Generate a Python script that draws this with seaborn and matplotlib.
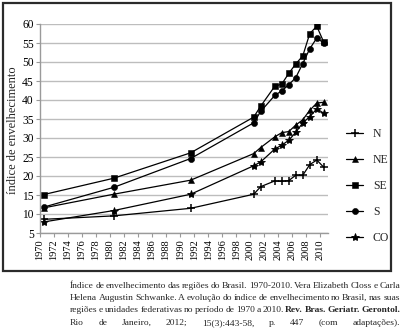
import numpy as np
import pandas as pd
import matplotlib
matplotlib.use("Agg")
import matplotlib.pyplot as plt
from matplotlib.patches import Rectangle
from matplotlib.lines import Line2D
import seaborn as sns

# Anos com dados (censos e PNAD)
anos = [1970, 1980, 1991, 2000, 2001, 2003, 2004, 2005, 2006, 2007, 2008, 2009, 2010]

# Índice de envelhecimento por região
norte = [8.6, 9.5, 11.5, 15.2, 17.2, 18.7, 18.6, 18.8, 20.2, 20.2, 23.0, 24.2, 22.3]
nordeste = [11.6, 15.2, 18.9, 25.9, 27.5, 30.3, 31.4, 31.7, 33.4, 34.8, 37.3, 39.2, 39.4]
sudeste = [15.1, 19.4, 26.1, 35.5, 38.4, 43.6, 44.2, 47.0, 49.5, 51.6, 57.5, 59.4, 55.2]
sul = [11.8, 17.0, 24.6, 34.0, 37.0, 41.2, 42.4, 44.0, 45.9, 49.6, 53.5, 56.3, 55.0]
centro_oeste = [7.9, 10.9, 15.2, 22.7, 23.7, 27.1, 28.1, 29.4, 31.5, 34.0, 35.6, 37.7, 36.5]

regioes = ["N", "NE", "SE", "S", "CO"]
valores = [norte, nordeste, sudeste, sul, centro_oeste]
# seaborn só aceita marcadores preenchidos num mesmo mapeamento;
# o "+" da região Norte é trocado depois de desenhar
marcadores_sns = {"N": "P", "NE": "^", "SE": "s", "S": "o", "CO": "*"}
marcadores = {"N": "+", "NE": "^", "SE": "s", "S": "o", "CO": "*"}
tamanhos = {"N": 6, "NE": 4.2, "SE": 4.2, "S": 4.4, "CO": 6}
bordas = {"N": 1.1, "NE": 0.4, "SE": 0.4, "S": 0.4, "CO": 0.6}

anos_rotulos = list(range(1970, 2011, 2))
y_ticks = list(range(5, 61, 5))

df = pd.DataFrame({
    "ano": np.tile(anos, len(regioes)),
    "indice": np.concatenate(valores),
    "regiao": np.repeat(regioes, len(anos)),
})

sns.set_theme(style="white")
plt.rcParams["font.family"] = ["Liberation Serif", "DejaVu Serif"]

W, H = 412, 330
fig = plt.figure(figsize=(W / 100, H / 100), dpi=100)
ax = fig.add_axes([40 / W, 1 - 233 / H, 288 / W, 209 / H])

sns.lineplot(
    data=df, x="ano", y="indice", hue="regiao", style="regiao",
    palette={r: "black" for r in regioes}, markers=marcadores_sns, dashes=False,
    linewidth=0.9, ax=ax, legend=False,
)
for line, r in zip(ax.get_lines(), regioes):
    line.set_marker(marcadores[r])
    line.set_markersize(tamanhos[r])
    line.set_markeredgewidth(bordas[r])
    line.set_markeredgecolor("black")
    line.set_markerfacecolor("black")

# Os anos são categorias: cada ponto fica no meio do intervalo do ano
ax.set_xlim(1969.5, 2010.6)
ax.set_xticks([a - 0.5 for a in anos_rotulos])
ax.set_xticklabels([str(a) for a in anos_rotulos], rotation=90, fontsize=7.5)
ax.set_ylim(5, 60)
ax.set_yticks(y_ticks)
ax.set_yticklabels([str(v) for v in y_ticks], fontsize=8.3)
ax.set_xlabel("")
ax.set_ylabel("índice de envelhecimento", fontsize=9)
ax.yaxis.set_label_coords(-0.072, 0.49)

ax.grid(axis="y", color="#bdbdbd", linewidth=1.0)
ax.grid(axis="x", visible=False)
for side in ["top", "right"]:
    ax.spines[side].set_visible(False)
for side in ["left", "bottom"]:
    ax.spines[side].set_color("#9a9a9a")
    ax.spines[side].set_linewidth(1.0)
ax.tick_params(axis="both", which="major", length=3, width=0.8,
               pad=1.5, labelcolor="black", color="#9a9a9a", direction="out",
               left=True, bottom=True)

# Legenda à direita
handles = [Line2D([0], [0], color="black", linewidth=0.9, marker=marcadores[r],
                  markersize=tamanhos[r], markeredgewidth=bordas[r],
                  markerfacecolor="black", markeredgecolor="black") for r in regioes]
fig.legend(handles, regioes, loc="upper left", bbox_to_anchor=(341 / W, 1 - 123 / H),
           frameon=False, fontsize=8.5, handlelength=1.5, handletextpad=0.8,
           labelspacing=1.2, borderaxespad=0)

# Moldura em torno do gráfico
fig.patches.append(Rectangle((3 / W, 1 - 271 / H), 388 / W, 268 / H,
                             transform=fig.transFigure, fill=False,
                             edgecolor="#2b2b2b", linewidth=1.6))

# Fonte, em texto justificado
linhas = [
    [("Índice de envelhecimento das regiões do Brasil. 1970-2010. Vera Elizabeth Closs e Carla", False)],
    [("Helena Augustin Schwanke. A evolução do índice de envelhecimento no Brasil, nas suas", False)],
    [("regiões e unidades federativas no período de 1970 a 2010.", False),
     ("Rev. Bras. Geriatr. Gerontol.", True)],
    [("Rio de Janeiro, 2012; 15(3):443-58, p. 447 (com adaptações).", False)],
]
x0, x1 = 70, 400
bases = [287.5, 300, 312.5, 325]
renderer = fig.canvas.get_renderer()
for linha, yb in zip(linhas, bases):
    palavras = []
    for trecho, negrito in linha:
        for p in trecho.split():
            palavras.append((p, negrito))
    objs = []
    for p, negrito in palavras:
        t = fig.text(0, 1 - yb / H, p, fontsize=6.8, va="baseline", ha="left",
                     fontweight="bold" if negrito else "normal")
        objs.append(t)
    larguras = [t.get_window_extent(renderer).width for t in objs]
    espaco = (x1 - x0 - sum(larguras)) / (len(objs) - 1)
    x = x0
    for t, w in zip(objs, larguras):
        t.set_x(x / W)
        x += w + espaco

fig.savefig("out.png", dpi=100)
